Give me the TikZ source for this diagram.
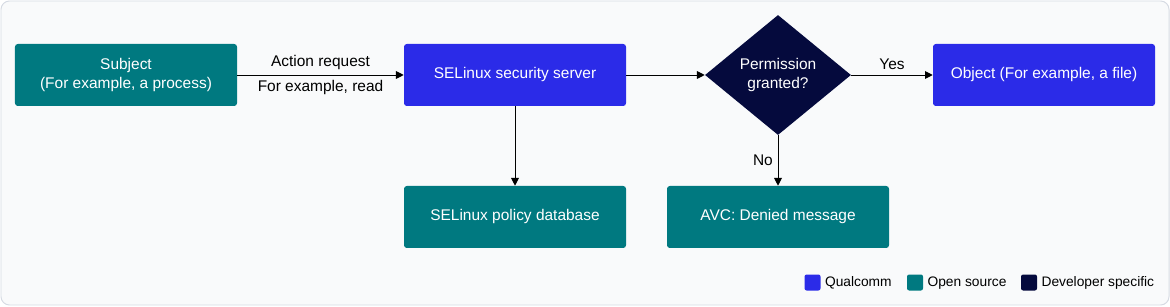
\documentclass[tikz,border=0pt]{standalone}
\usepackage{fontspec}
\setmainfont{Liberation Sans}
\usepackage{xcolor}
\usepackage{tikz}
\usetikzlibrary{arrows.meta,positioning,shapes.geometric}
\definecolor{boxteal}{rgb}{0.0,0.475,0.5}
\definecolor{boxqc}{rgb}{0.17,0.17,0.91}
\definecolor{boxnavy}{rgb}{0.02,0.04,0.24}
\definecolor{panelbg}{rgb}{0.976,0.98,0.984}
\definecolor{panelline}{rgb}{0.84,0.86,0.89}

\begin{document}
\begin{tikzpicture}[font=\fontsize{11}{13.5}\selectfont,
  b/.style={rounded corners=2pt,minimum width=5.55cm,minimum height=1.55cm,align=center,text=white},
  dec/.style={diamond,fill=boxnavy,text=white,align=center,minimum width=3.65cm,
              minimum height=3cm,aspect=1.22,inner sep=0pt},
  ar/.style={-{Triangle[length=5.5pt,width=5.5pt]},line width=0.7pt},
  key/.style={rounded corners=1.5pt,minimum size=0.4cm,inner sep=0pt},
  keytxt/.style={font=\fontsize{9.8}{12}\selectfont,inner sep=0pt,text height=1.6ex,text depth=0.45ex}]
\useasboundingbox (0,0) rectangle (29.25,7.65);
\draw[panelline,fill=panelbg,rounded corners=6pt,line width=0.7pt] (0.025,0.025) rectangle (29.225,7.625);
\node[b,fill=boxteal] (subj) at (3.15,5.775) {Subject\\(For example, a process)};
\node[b,fill=boxqc] (srv) at (12.875,5.775) {SELinux security server};
\node[dec] (perm) at (19.45,5.775) {Permission\\granted?};
\node[b,fill=boxqc] (obj) at (26.1,5.775) {Object (For example, a file)};
\node[b,fill=boxteal] (db) at (12.875,2.225) {SELinux policy database};
\node[b,fill=boxteal] (avc) at (19.45,2.225) {AVC: Denied message};
\draw[ar] (subj) -- node[above]{Action request} node[below]{For example, read} (srv);
\draw[ar] (srv) -- (perm);
\draw[ar] (perm) -- node[above]{Yes} (obj);
\draw[ar] (srv) -- (db);
\draw[ar] (perm) -- node[left]{No} (avc);
\node[key,fill=boxqc] (kqc) at (20.3125,0.5875) {};
\node[keytxt,right=0.1cm of kqc] (kqctxt) {Qualcomm};
\node[key,fill=boxteal] (kos) at (22.875,0.5875) {};
\node[keytxt,right=0.1cm of kos] (kostxt) {Open source};
\node[key,fill=boxnavy] (kdev) at (25.725,0.5875) {};
\node[keytxt,right=0.1cm of kdev] (kdevtxt) {Developer specific};
\end{tikzpicture}
\end{document}
